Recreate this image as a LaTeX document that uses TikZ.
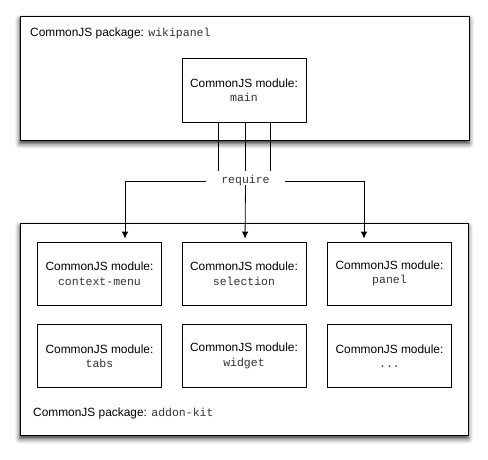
\documentclass[tikz,border=0pt]{standalone}
\usepackage{fontspec}
\setmainfont{Liberation Sans}
\setmonofont{Liberation Mono}
\usetikzlibrary{arrows.meta,shadows.blur}
\newcommand\cjsmono[1]{{\ttfamily\fontsize{11.5}{14.5}\selectfont\color{black!80}#1}}
\begin{document}
\begin{tikzpicture}[x=1pt,y=-1pt,
  font=\fontsize{11.9}{14.5}\selectfont,
  pkg/.style={draw=black, line width=0.95pt, fill=white, inner sep=0pt,
    blur shadow={shadow xshift=0pt, shadow yshift=-3.5pt, shadow blur radius=5pt, shadow opacity=85}},
  mod/.style={draw=black, line width=0.8pt, fill=white, minimum width=124pt,
    minimum height=63pt, align=center, inner sep=0pt},
  lbl/.style={anchor=west, inner sep=0pt},
  conn/.style={line width=0.8pt},
  arr/.style={conn, -{Latex[length=7pt,width=6.5pt]}, shorten >=3pt}]
\useasboundingbox (0,0) rectangle (488,459);
% top package
\node[pkg, minimum width=449pt, minimum height=124pt] (wiki) at (244.5,78) {};
\node[lbl] (wikilbl) at (30,33) {CommonJS package: \cjsmono{wikipanel}};
\node[mod, minimum height=64pt] (main) at (244,90) {CommonJS module:\\\cjsmono{main}};
% bottom package
\node[pkg, minimum width=448pt, minimum height=212pt] (kit) at (244,329) {};
\node[lbl] (kitlbl) at (33,413) {CommonJS package: \cjsmono{addon-kit}};
\node[mod] (ctx) at (99.5,273.5) {CommonJS module:\\\cjsmono{context-menu}};
\node[mod] (sel) at (244,273.5) {CommonJS module:\\\cjsmono{selection}};
\node[mod] (pan) at (389.5,273.5) {CommonJS module:\\\cjsmono{panel}};
\node[mod] (tabs) at (99.5,356) {CommonJS module:\\\cjsmono{tabs}};
\node[mod] (wid) at (244,356) {CommonJS module:\\\cjsmono{widget}};
\node[mod] (etc) at (389.5,356) {CommonJS module:\\\cjsmono{...}};
% require
\node[inner sep=0pt, inner xsep=15pt, minimum height=20pt] (req) at (245.5,181) {\cjsmono{require}};
\coordinate (m1) at ([xshift=-26pt]main.south);
\coordinate (m2) at ([xshift=1pt]main.south);
\coordinate (m3) at ([xshift=26pt]main.south);
\draw[conn] (m1) -- (m1 |- req.north);
\draw[conn] (m2) -- (m2 |- req.north);
\draw[conn] (m3) -- (m3 |- req.north);
\draw[arr] (req.west) -| ([xshift=25.5pt]ctx.north);
\draw[arr] ([yshift=6pt]req.south) -- ([xshift=1pt]sel.north);
\draw[arr] (req.east) -| ([xshift=-25.5pt]pan.north);
\end{tikzpicture}
\end{document}
